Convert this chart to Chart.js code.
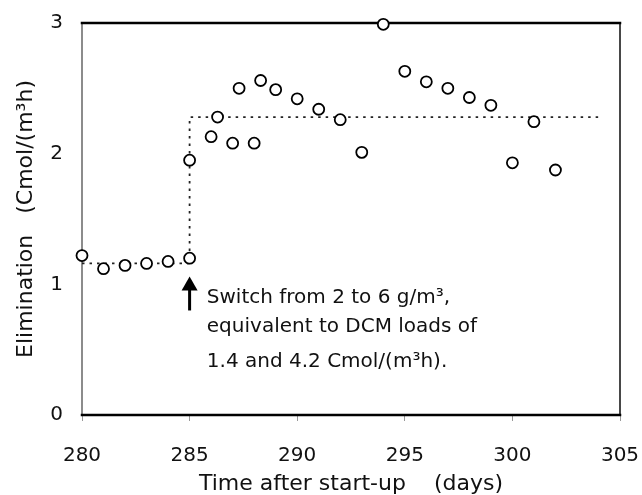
<!DOCTYPE html>
<html>
<head>
<meta charset="utf-8">
<script src="https://cdn.jsdelivr.net/npm/chart.js@4/dist/chart.umd.min.js"></script>
<style>
  html, body { margin: 0; padding: 0; background: #fff; }
  canvas { display: block; }
</style>
</head>
<body>
<canvas id="elimChart" width="642" height="495"></canvas>
<script>
// Elimination measurements (day, Cmol/(m3h))
const days = [280, 281, 282, 283, 284, 285, 285, 286, 286.3, 287, 287.3, 288, 288.3, 289,
              290, 291, 292, 293, 294, 295, 296, 297, 298, 299, 300, 301, 302];
const elimination = [1.22, 1.12, 1.145, 1.16, 1.175, 1.20, 1.95, 2.13, 2.28, 2.08, 2.50, 2.08, 2.56, 2.49,
                     2.42, 2.34, 2.26, 2.01, 2.99, 2.63, 2.55, 2.50, 2.43, 2.37, 1.93, 2.245, 1.875];

// Load level before / after the switch (dotted step)
const stepDays = [280, 285, 285, 304];
const stepLevels = [1.16, 1.16, 2.28, 2.28];

const xTicks = [280, 285, 290, 295, 300, 305];
const yTicks = [0, 1, 2, 3];

const noteLines = ['Switch from 2 to 6 g/m³,', 'equivalent to DCM loads of', '1.4 and 4.2 Cmol/(m³h).'];
const noteDay = 285.8;
const noteBaselines = [0.86, 0.635, 0.37];
const arrowDay = 285;
const arrowFrom = 0.80;
const arrowTo = 1.06;

const FONT = '"DejaVu Sans", sans-serif';

// Frame round the plot area, drawn under the markers
const framePlugin = {
    id: 'frame',
    beforeDatasetsDraw(chart) {
        const { ctx, chartArea: a } = chart;
        ctx.save();
        ctx.lineCap = 'square';
        ctx.strokeStyle = '#666';
        ctx.lineWidth = 1.5;
        ctx.beginPath(); ctx.moveTo(a.left, a.top); ctx.lineTo(a.left, a.bottom); ctx.stroke();
        ctx.strokeStyle = '#333';
        ctx.lineWidth = 1.8;
        ctx.beginPath(); ctx.moveTo(a.right, a.top); ctx.lineTo(a.right, a.bottom); ctx.stroke();
        ctx.strokeStyle = '#000';
        ctx.lineWidth = 2.5;
        ctx.beginPath(); ctx.moveTo(a.left, a.top); ctx.lineTo(a.right, a.top); ctx.stroke();
        ctx.beginPath(); ctx.moveTo(a.left, a.bottom); ctx.lineTo(a.right, a.bottom); ctx.stroke();
        ctx.restore();
    }
};

// Arrow and note at the concentration switch
const notePlugin = {
    id: 'note',
    afterDraw(chart) {
        const { ctx, scales: { x, y } } = chart;
        const ax = x.getPixelForValue(arrowDay);
        const y0 = y.getPixelForValue(arrowFrom);
        const y1 = y.getPixelForValue(arrowTo);
        ctx.save();
        ctx.fillStyle = '#000';
        ctx.strokeStyle = '#000';
        ctx.lineWidth = 3;
        ctx.beginPath(); ctx.moveTo(ax, y0); ctx.lineTo(ax, y1 + 10); ctx.stroke();
        ctx.beginPath();
        ctx.moveTo(ax, y1);
        ctx.lineTo(ax - 8, y1 + 14);
        ctx.lineTo(ax + 8, y1 + 14);
        ctx.closePath();
        ctx.fill();

        ctx.font = '20px ' + FONT;
        ctx.textAlign = 'left';
        ctx.textBaseline = 'alphabetic';
        ctx.fillStyle = '#111';
        const tx = x.getPixelForValue(noteDay);
        noteLines.forEach((line, i) => {
            ctx.fillText(line, tx, y.getPixelForValue(noteBaselines[i]));
        });
        ctx.restore();
    }
};

new Chart(document.getElementById('elimChart'), {
    type: 'scatter',
    data: {
        datasets: [{
            label: 'Elimination',
            data: days.map((d, i) => ({ x: d, y: elimination[i] })),
            pointStyle: 'circle',
            pointRadius: 5.5,
            pointBorderWidth: 1.8,
            pointBackgroundColor: '#fff',
            pointBorderColor: '#000',
            showLine: false,
            clip: false,
            order: 0
        }, {
            label: 'Load',
            data: stepDays.map((d, i) => ({ x: d, y: stepLevels[i] })),
            showLine: true,
            borderColor: '#222',
            borderWidth: 1.8,
            borderDash: [2.5, 5],
            pointRadius: 0,
            fill: false,
            clip: false,
            order: 1
        }]
    },
    options: {
        responsive: false,
        devicePixelRatio: 1,
        animation: false,
        layout: { padding: { top: 23, right: 22, left: 0, bottom: 0 } },
        plugins: {
            legend: { display: false },
            tooltip: { enabled: false }
        },
        scales: {
            x: {
                type: 'linear',
                min: 280,
                max: 305,
                afterFit: s => {
                    s.height = 80;
                    s.paddingLeft = 0;
                    s.paddingRight = 0;
                },
                afterBuildTicks: s => { s.ticks = xTicks.map(v => ({ value: v })); },
                border: { display: false },
                grid: { display: true, drawOnChartArea: false, drawTicks: true, tickLength: 6, color: '#999', lineWidth: 1 },
                ticks: { font: { family: FONT, size: 20 }, color: '#111', padding: 23 },
                title: {
                    display: true,
                    text: 'Time after start-up    (days)',
                    font: { family: FONT, size: 22, lineHeight: 1 },
                    color: '#111',
                    padding: { top: 0, bottom: 0 }
                }
            },
            y: {
                min: 0,
                max: 3,
                afterFit: s => {
                    s.width = 82;
                    s.paddingTop = 0;
                    s.paddingBottom = 0;
                },
                afterBuildTicks: s => { s.ticks = yTicks.map(v => ({ value: v })); },
                border: { display: false },
                grid: { display: false, drawTicks: false },
                ticks: { font: { family: FONT, size: 20 }, color: '#111', padding: 19 },
                title: {
                    display: true,
                    text: 'Elimination   (Cmol/(m³h)',
                    font: { family: FONT, size: 22, lineHeight: 1 },
                    color: '#111',
                    padding: { top: 15, bottom: 0 }
                }
            }
        }
    },
    plugins: [framePlugin, notePlugin]
});
</script>
</body>
</html>
